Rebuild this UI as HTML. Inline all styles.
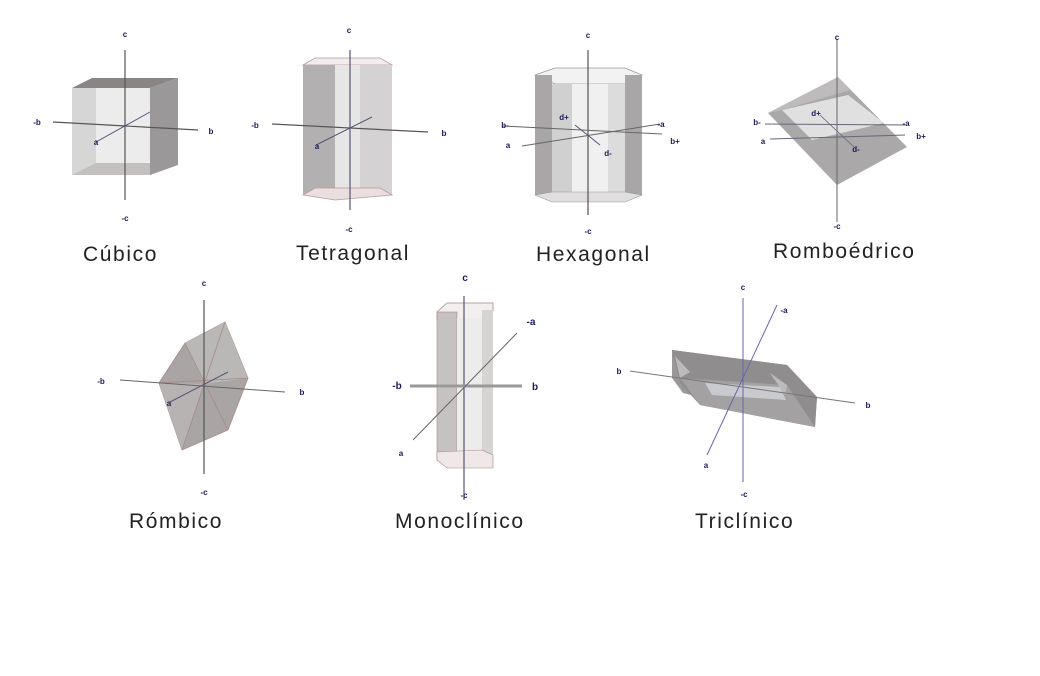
<!DOCTYPE html>
<html><head><meta charset="utf-8"><style>
html,body{margin:0;padding:0;background:#fff;}
svg{display:block;}
.lbl{font-family:"Liberation Sans",sans-serif;font-size:21px;letter-spacing:1.6px;fill:#222;}
.ax{font-family:"Liberation Sans",sans-serif;font-size:8px;fill:#1a1a5a;font-weight:bold;text-anchor:middle;}
</style></head><body>
<svg width="1040" height="676" viewBox="0 0 1040 676" xmlns="http://www.w3.org/2000/svg">
<rect width="1040" height="676" fill="#fff"/>
<!-- Cubic -->
<polygon points="72,88 92,78 178,78 150,88" fill="#8a8585"/>
<polygon points="150,88 178,78 178,165 150,175" fill="#9a9898"/>
<rect x="72" y="88" width="78" height="87" fill="#d6d6d6"/>
<rect x="96" y="88" width="54" height="75" fill="#ececec"/>
<polygon points="72,175 96,163 150,163 150,175" fill="#c4c0c0"/>
<line x1="125" y1="50" x2="125" y2="200" stroke="#555" stroke-width="1.2"/>
<line x1="53" y1="122" x2="198" y2="130" stroke="#555" stroke-width="1.2"/>
<line x1="96" y1="142" x2="150" y2="112" stroke="#557" stroke-width="1"/>
<text class="ax" x="125" y="37">c</text><text class="ax" x="37" y="125">-b</text>
<text class="ax" x="211" y="134">b</text><text class="ax" x="96" y="145">a</text>
<text class="ax" x="125" y="221">-c</text>
<text class="lbl" x="83" y="261">Cúbico</text>
<!-- Tetragonal -->
<polygon points="303,65 315,58 380,58 392,65" fill="#eee" stroke="#b99" stroke-width="0.8"/>
<rect x="303" y="65" width="32" height="130" fill="#b2b0b0"/>
<rect x="335" y="65" width="57" height="130" fill="#e6e6e6"/>
<rect x="360" y="65" width="32" height="130" fill="#d4d2d2"/>
<polygon points="303,195 335,200 392,195 380,188 315,188" fill="#eadede" stroke="#b99" stroke-width="0.8"/>
<line x1="350" y1="50" x2="350" y2="210" stroke="#557" stroke-width="1.2"/>
<line x1="272" y1="124" x2="428" y2="132" stroke="#555" stroke-width="1.2"/>
<line x1="316" y1="145" x2="372" y2="117" stroke="#557" stroke-width="1"/>
<text class="ax" x="349" y="33">c</text><text class="ax" x="255" y="128">-b</text>
<text class="ax" x="444" y="136">b</text><text class="ax" x="317" y="149">a</text>
<text class="ax" x="349" y="232">-c</text>
<text class="lbl" x="296" y="260">Tetragonal</text>
<!-- Hexagonal -->
<polygon points="535,75 555,68 625,68 642,75 625,84 555,84" fill="#f2f2f2" stroke="#999" stroke-width="0.8"/>
<rect x="535" y="75" width="17" height="120" fill="#a8a6a6"/>
<rect x="552" y="84" width="20" height="108" fill="#d0d0d0"/>
<rect x="572" y="84" width="36" height="108" fill="#f0f0f0"/>
<rect x="608" y="84" width="17" height="108" fill="#dcdcdc"/>
<rect x="625" y="75" width="17" height="120" fill="#a8a6a6"/>
<polygon points="535,195 552,192 625,192 642,195 625,202 552,202" fill="#e0dede" stroke="#999" stroke-width="0.6"/>
<line x1="588" y1="50" x2="588" y2="215" stroke="#555" stroke-width="1.2"/>
<line x1="503" y1="126" x2="662" y2="134" stroke="#666" stroke-width="1"/>
<line x1="522" y1="146" x2="660" y2="124" stroke="#666" stroke-width="1"/>
<line x1="575" y1="125" x2="600" y2="145" stroke="#557" stroke-width="1"/>
<text class="ax" x="588" y="38">c</text><text class="ax" x="505" y="128">b-</text>
<text class="ax" x="508" y="148">a</text><text class="ax" x="661" y="127">-a</text>
<text class="ax" x="675" y="144">b+</text><text class="ax" x="564" y="120">d+</text>
<text class="ax" x="608" y="156">d-</text><text class="ax" x="588" y="234">-c</text>
<text class="lbl" x="536" y="261">Hexagonal</text>
<!-- Romboedrico -->
<polygon points="768,113 838,77 907,147 837,185" fill="#aaa8a8"/>
<polygon points="782,110 848,95 884,123 812,140" fill="#e0e0e0"/>
<polygon points="768,113 838,77 850,90 782,110" fill="#bdbbbb"/>
<line x1="837" y1="40" x2="837" y2="222" stroke="#666" stroke-width="1"/>
<line x1="765" y1="124" x2="905" y2="125" stroke="#667" stroke-width="1"/>
<line x1="770" y1="139" x2="905" y2="135" stroke="#667" stroke-width="1"/>
<line x1="820" y1="115" x2="855" y2="148" stroke="#667" stroke-width="0.8"/>
<text class="ax" x="837" y="40">c</text><text class="ax" x="757" y="125">b-</text>
<text class="ax" x="763" y="144">a</text><text class="ax" x="906" y="126">-a</text>
<text class="ax" x="921" y="139">b+</text><text class="ax" x="816" y="116">d+</text>
<text class="ax" x="856" y="152">d-</text><text class="ax" x="837" y="229">-c</text>
<text class="lbl" x="773" y="258">Romboédrico</text>
<!-- Rombico -->
<polygon points="159,383 185,343 225,322 248,378 228,430 182,450" fill="#a9a5a5" stroke="#a88" stroke-width="0.8"/>
<polygon points="185,343 225,322 248,378 204,384" fill="#bab7b7"/>
<polygon points="159,383 204,384 182,450" fill="#b8b3b3"/>
<line x1="185" y1="343" x2="228" y2="430" stroke="#a88" stroke-width="0.8"/>
<line x1="225" y1="322" x2="182" y2="450" stroke="#a88" stroke-width="0.8"/>
<line x1="159" y1="383" x2="248" y2="378" stroke="#a88" stroke-width="0.8"/>
<line x1="204" y1="300" x2="204" y2="474" stroke="#555" stroke-width="1.2"/>
<line x1="120" y1="380" x2="285" y2="392" stroke="#666" stroke-width="1"/>
<line x1="170" y1="402" x2="228" y2="372" stroke="#557" stroke-width="1"/>
<text class="ax" x="204" y="286">c</text><text class="ax" x="101" y="384">-b</text>
<text class="ax" x="302" y="395">b</text><text class="ax" x="169" y="406">a</text>
<text class="ax" x="204" y="495">-c</text>
<text class="lbl" x="129" y="528">Rómbico</text>
<!-- Monoclinico -->
<polygon points="437,312 447,303 493,303 493,311 482,320 437,320" fill="#f4efef" stroke="#a88" stroke-width="0.8"/>
<rect x="437" y="312" width="20" height="148" fill="#c7c2c2" stroke="#a88" stroke-width="0.6"/>
<rect x="457" y="318" width="25" height="142" fill="#ececec"/>
<rect x="482" y="310" width="11" height="150" fill="#d6d3d3"/>
<polygon points="437,460 447,468 493,468 493,455 482,450 437,452" fill="#f0e8e8" stroke="#a88" stroke-width="0.6"/>
<line x1="464" y1="296" x2="464" y2="500" stroke="#557" stroke-width="1.2"/>
<line x1="410" y1="386" x2="522" y2="386" stroke="#999" stroke-width="3"/>
<line x1="413" y1="440" x2="517" y2="333" stroke="#666" stroke-width="1"/>
<text class="ax" x="465" y="281" style="font-size:10px">c</text><text class="ax" x="397" y="389" style="font-size:10px">-b</text>
<text class="ax" x="535" y="390" style="font-size:10px">b</text><text class="ax" x="531" y="325" style="font-size:10px">-a</text>
<text class="ax" x="401" y="456">a</text><text class="ax" x="464" y="498">-c</text>
<text class="lbl" x="395" y="528">Monoclínico</text>
<!-- Triclinico -->
<polygon points="672,350 787,365 817,397 815,427 683,393 672,378" fill="#9a9898"/>
<polygon points="672,350 787,365 817,397 815,427 700,405 680,383" fill="#8f8d8d"/>
<polygon points="680,378 787,385 815,427 700,405" fill="#a3a1a1"/>
<polygon points="705,383 780,387 786,400 712,395" fill="#c9c9d0"/>
<polygon points="675,356 690,372 680,378" fill="#bbb"/>
<polygon points="770,373 787,385 785,395" fill="#bbb"/>
<line x1="743" y1="298" x2="743" y2="482" stroke="#66a" stroke-width="1"/>
<line x1="630" y1="371" x2="855" y2="403" stroke="#777" stroke-width="1"/>
<line x1="707" y1="455" x2="777" y2="305" stroke="#66a" stroke-width="1"/>
<text class="ax" x="743" y="290">c</text><text class="ax" x="619" y="374">b</text>
<text class="ax" x="868" y="408">b</text><text class="ax" x="784" y="313">-a</text>
<text class="ax" x="706" y="468">a</text><text class="ax" x="744" y="497">-c</text>
<text class="lbl" x="695" y="528">Triclínico</text>
</svg>
</body></html>
